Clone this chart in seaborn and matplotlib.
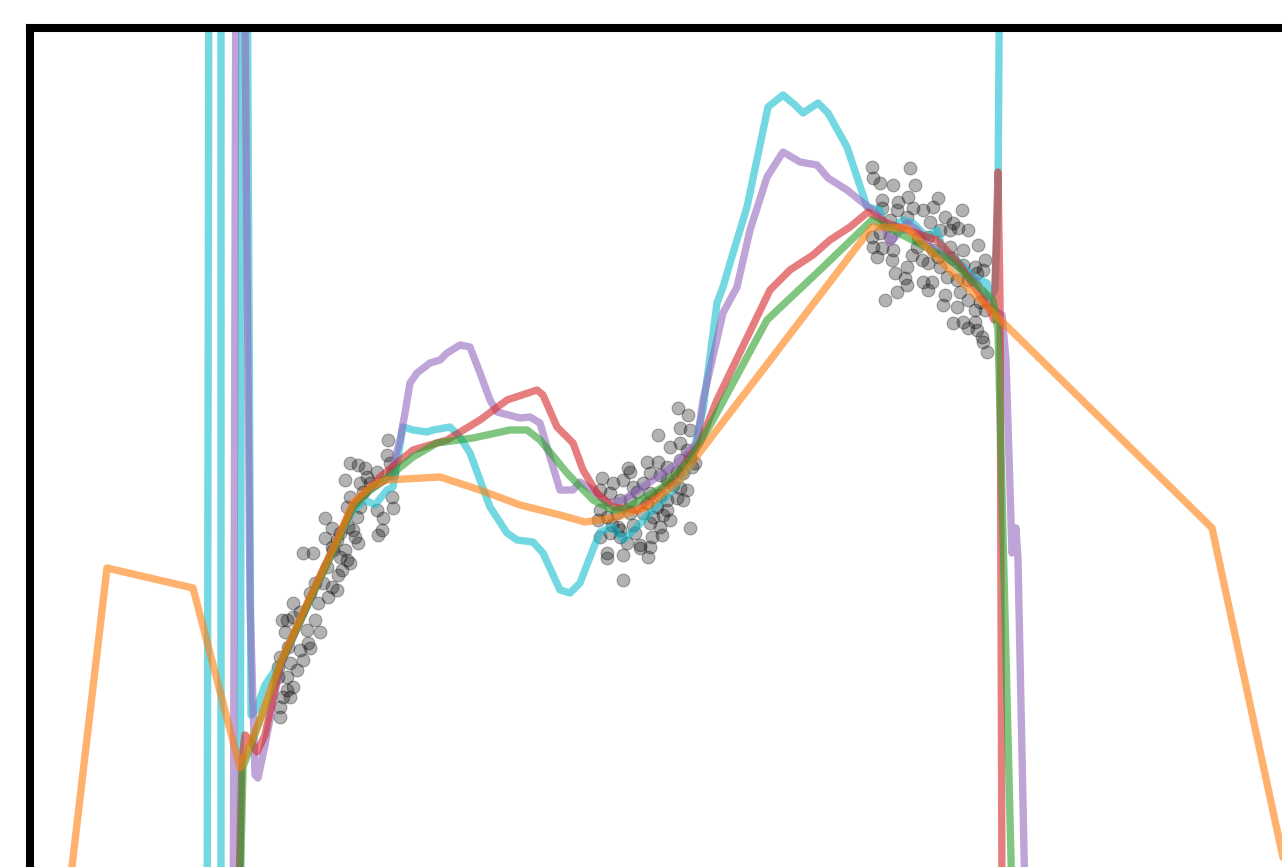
import numpy as np
import matplotlib
matplotlib.use("Agg")
import matplotlib.pyplot as plt
import seaborn as sns

# scatter clusters (x, y)
c1_x = [388, 387, 350, 358, 365, 345, 367, 377, 390, 392, 360, 370, 363, 392, 393, 350, 347, 360, 377, 383,
        378, 382, 325, 357, 332, 340, 325, 353, 355, 358, 337, 332, 345, 347, 303, 313, 340, 327, 338, 315,
        323, 332, 337, 310, 328, 293, 300, 315, 287, 282, 293, 320, 285, 308, 310, 300, 280, 303, 290, 297,
        278, 287, 278, 287, 290, 283, 280, 280, 333, 348, 342, 350, 318, 307, 288, 293]
c1_y = [430, 415, 407, 405, 402, 390, 393, 398, 407, 397, 387, 387, 378, 373, 362, 373, 363, 363, 360, 352,
        335, 340, 352, 353, 342, 337, 332, 340, 333, 327, 330, 323, 320, 310, 317, 317, 313, 303, 295, 287,
        287, 283, 280, 277, 273, 267, 258, 250, 250, 250, 253, 238, 238, 227, 222, 220, 213, 210, 207, 200,
        203, 193, 193, 180, 173, 173, 163, 153, 320, 343, 300, 307, 267, 240, 223, 183]

c2_x = [678, 688, 690, 680, 658, 670, 680, 687, 690, 680, 692, 695, 647, 658, 667, 628, 630, 650, 660, 667,
        677, 683, 680, 687, 677, 683, 602, 613, 623, 633, 643, 637, 650, 660, 667, 600, 610, 620, 630, 647,
        657, 667, 600, 607, 617, 630, 643, 653, 663, 670, 598, 612, 620, 633, 650, 660, 600, 610, 620, 635,
        652, 662, 627, 640, 650, 607, 607, 640, 623, 648, 690, 623, 618, 673]
c2_y = [462, 455, 440, 442, 435, 423, 427, 420, 413, 410, 403, 407, 408, 408, 403, 402, 398, 397, 395, 390,
        398, 397, 382, 380, 372, 370, 392, 387, 390, 383, 387, 378, 377, 375, 370, 380, 377, 370, 370, 367,
        363, 360, 360, 353, 357, 357, 357, 353, 355, 350, 350, 345, 340, 345, 347, 343, 333, 337, 333, 337,
        333, 335, 327, 325, 323, 317, 312, 322, 315, 313, 342, 290, 343, 385]

c3_x = [872, 910, 873, 880, 893, 915, 882, 898, 908, 938, 882, 897, 913, 923, 933, 962, 890, 907, 930, 945,
        953, 958, 968, 940, 950, 978, 872, 880, 890, 918, 928, 873, 882, 893, 917, 933, 950, 963, 877, 892,
        912, 922, 938, 952, 985, 975, 977, 983, 895, 907, 928, 940, 963, 905, 923, 932, 947, 957, 968, 907,
        928, 945, 960, 897, 885, 943, 957, 968, 975, 953, 963, 968, 977, 982, 983, 987, 975, 985, 980]
c3_y = [703, 702, 692, 687, 685, 685, 670, 668, 673, 672, 662, 660, 662, 660, 663, 660, 650, 653, 648, 653,
        647, 642, 640, 640, 640, 625, 633, 637, 633, 632, 633, 623, 622, 620, 623, 620, 623, 620, 613, 610,
        615, 610, 613, 612, 610, 603, 597, 600, 597, 603, 607, 603, 605, 592, 588, 588, 593, 590, 590, 585,
        580, 575, 578, 578, 570, 565, 563, 570, 560, 547, 548, 542, 540, 533, 528, 518, 548, 560, 568]

# fitted curves
orange_x = [71, 107, 193, 240, 260, 280, 310, 337, 353, 370, 387, 440, 480, 520, 560, 585, 613, 647, 680, 700,
            872, 907, 1212, 1290]
orange_y = [-5, 302, 282, 102, 150, 207, 273, 330, 367, 383, 390, 393, 380, 365, 355, 348, 352, 363, 390, 418,
            643, 642, 342, -20]

green_x = [240, 243, 260, 280, 310, 337, 353, 370, 387, 413, 437, 473, 510, 527, 540, 567, 593, 613, 623, 663,
           690, 713, 740, 767, 820, 872, 893, 950, 993, 998, 1012]
green_y = [-30, 103, 150, 205, 270, 327, 363, 380, 392, 413, 427, 432, 440, 440, 430, 397, 370, 360, 360, 383,
           410, 450, 500, 550, 600, 650, 640, 610, 570, 540, -30]

red_x = [239, 242, 245, 250, 257, 265, 280, 310, 337, 353, 370, 380, 413, 447, 480, 507, 537, 543, 557, 573,
         583, 597, 613, 637, 673, 700, 717, 770, 790, 813, 830, 850, 868, 887, 907, 937, 960, 990, 994, 996,
         998, 1000, 1002]
red_y = [-30, 110, 135, 130, 118, 135, 205, 272, 330, 365, 382, 393, 420, 430, 450, 470, 480, 475, 443, 427,
         400, 377, 363, 360, 390, 427, 470, 580, 600, 615, 630, 643, 658, 647, 640, 630, 605, 560, 550, 620,
         698, 570, -30]

purple_x = [233, 236, 244, 250, 255, 258, 265, 280, 310, 337, 353, 370, 390, 400, 405, 410, 417, 430, 440, 447,
            460, 470, 480, 490, 497, 520, 530, 540, 550, 560, 573, 580, 593, 607, 623, 653, 675, 697, 703, 723,
            737, 750, 767, 783, 800, 817, 828, 847, 872, 883, 890, 907, 917, 930, 950, 975, 985, 993, 1002,
            1006, 1012, 1016, 1018, 1025]
purple_y = [-130, 970, 970, 270, 95, 92, 125, 203, 270, 327, 364, 380, 393, 430, 457, 487, 497, 507, 510, 517,
            525, 523, 497, 470, 458, 452, 453, 447, 413, 380, 380, 388, 380, 367, 370, 390, 405, 427, 470, 557,
            583, 640, 693, 718, 708, 705, 692, 680, 660, 650, 627, 647, 640, 623, 610, 590, 575, 560, 555,
            510, 317, 342, 310, -30]

cyan_x = [207, 209, 221, 221, 240, 242, 247, 251, 256, 265, 280, 310, 337, 353, 365, 375, 387, 393, 403, 413,
          427, 433, 450, 460, 470, 480, 490, 507, 517, 533, 543, 560, 570, 580, 590, 600, 613, 623, 637, 650,
          670, 690, 703, 717, 723, 733, 747, 768, 783, 795, 803, 818, 828, 847, 857, 867, 880, 883, 893, 903,
          913, 927, 937, 943, 960, 973, 987, 990, 995, 998, 1000]
cyan_y = [-130, 970, 970, -130, -130, 970, 970, 155, 160, 185, 207, 272, 330, 360, 370, 365, 380, 383, 443, 440,
          438, 440, 443, 433, 417, 390, 363, 337, 330, 328, 317, 280, 277, 287, 313, 338, 343, 330, 343, 357,
          377, 403, 460, 567, 583, 617, 663, 763, 775, 765, 757, 767, 757, 723, 693, 663, 660, 647, 643, 650,
          647, 633, 640, 620, 607, 593, 587, 573, 580, 670, 970]

fig = plt.figure(figsize=(12.82, 8.67), dpi=100)
ax = fig.add_axes([30 / 1282, -3 / 867, 1255 / 1282, 842 / 867])

pts_x = c1_x + c2_x + c3_x
pts_y = c1_y + c2_y + c3_y
sns.scatterplot(x=pts_x, y=pts_y, color="black", alpha=0.3, s=85,
                edgecolor="black", linewidth=0.8, ax=ax, zorder=1)

curves = [
    (cyan_x, cyan_y, "tab:cyan"),
    (purple_x, purple_y, "tab:purple"),
    (red_x, red_y, "tab:red"),
    (green_x, green_y, "tab:green"),
    (orange_x, orange_y, "tab:orange"),
]
for cx, cy, col in curves:
    sns.lineplot(x=cx, y=cy, sort=False, estimator=None, color=col, alpha=0.6,
                 linewidth=5.3, ax=ax, solid_capstyle="round")

ax.set_xlim(30, 1285)
ax.set_ylim(0, 842)
ax.set_xticks([])
ax.set_yticks([])
for s in ax.spines.values():
    s.set_linewidth(5.8)
    s.set_color("black")

fig.savefig("out.png", dpi=100)
